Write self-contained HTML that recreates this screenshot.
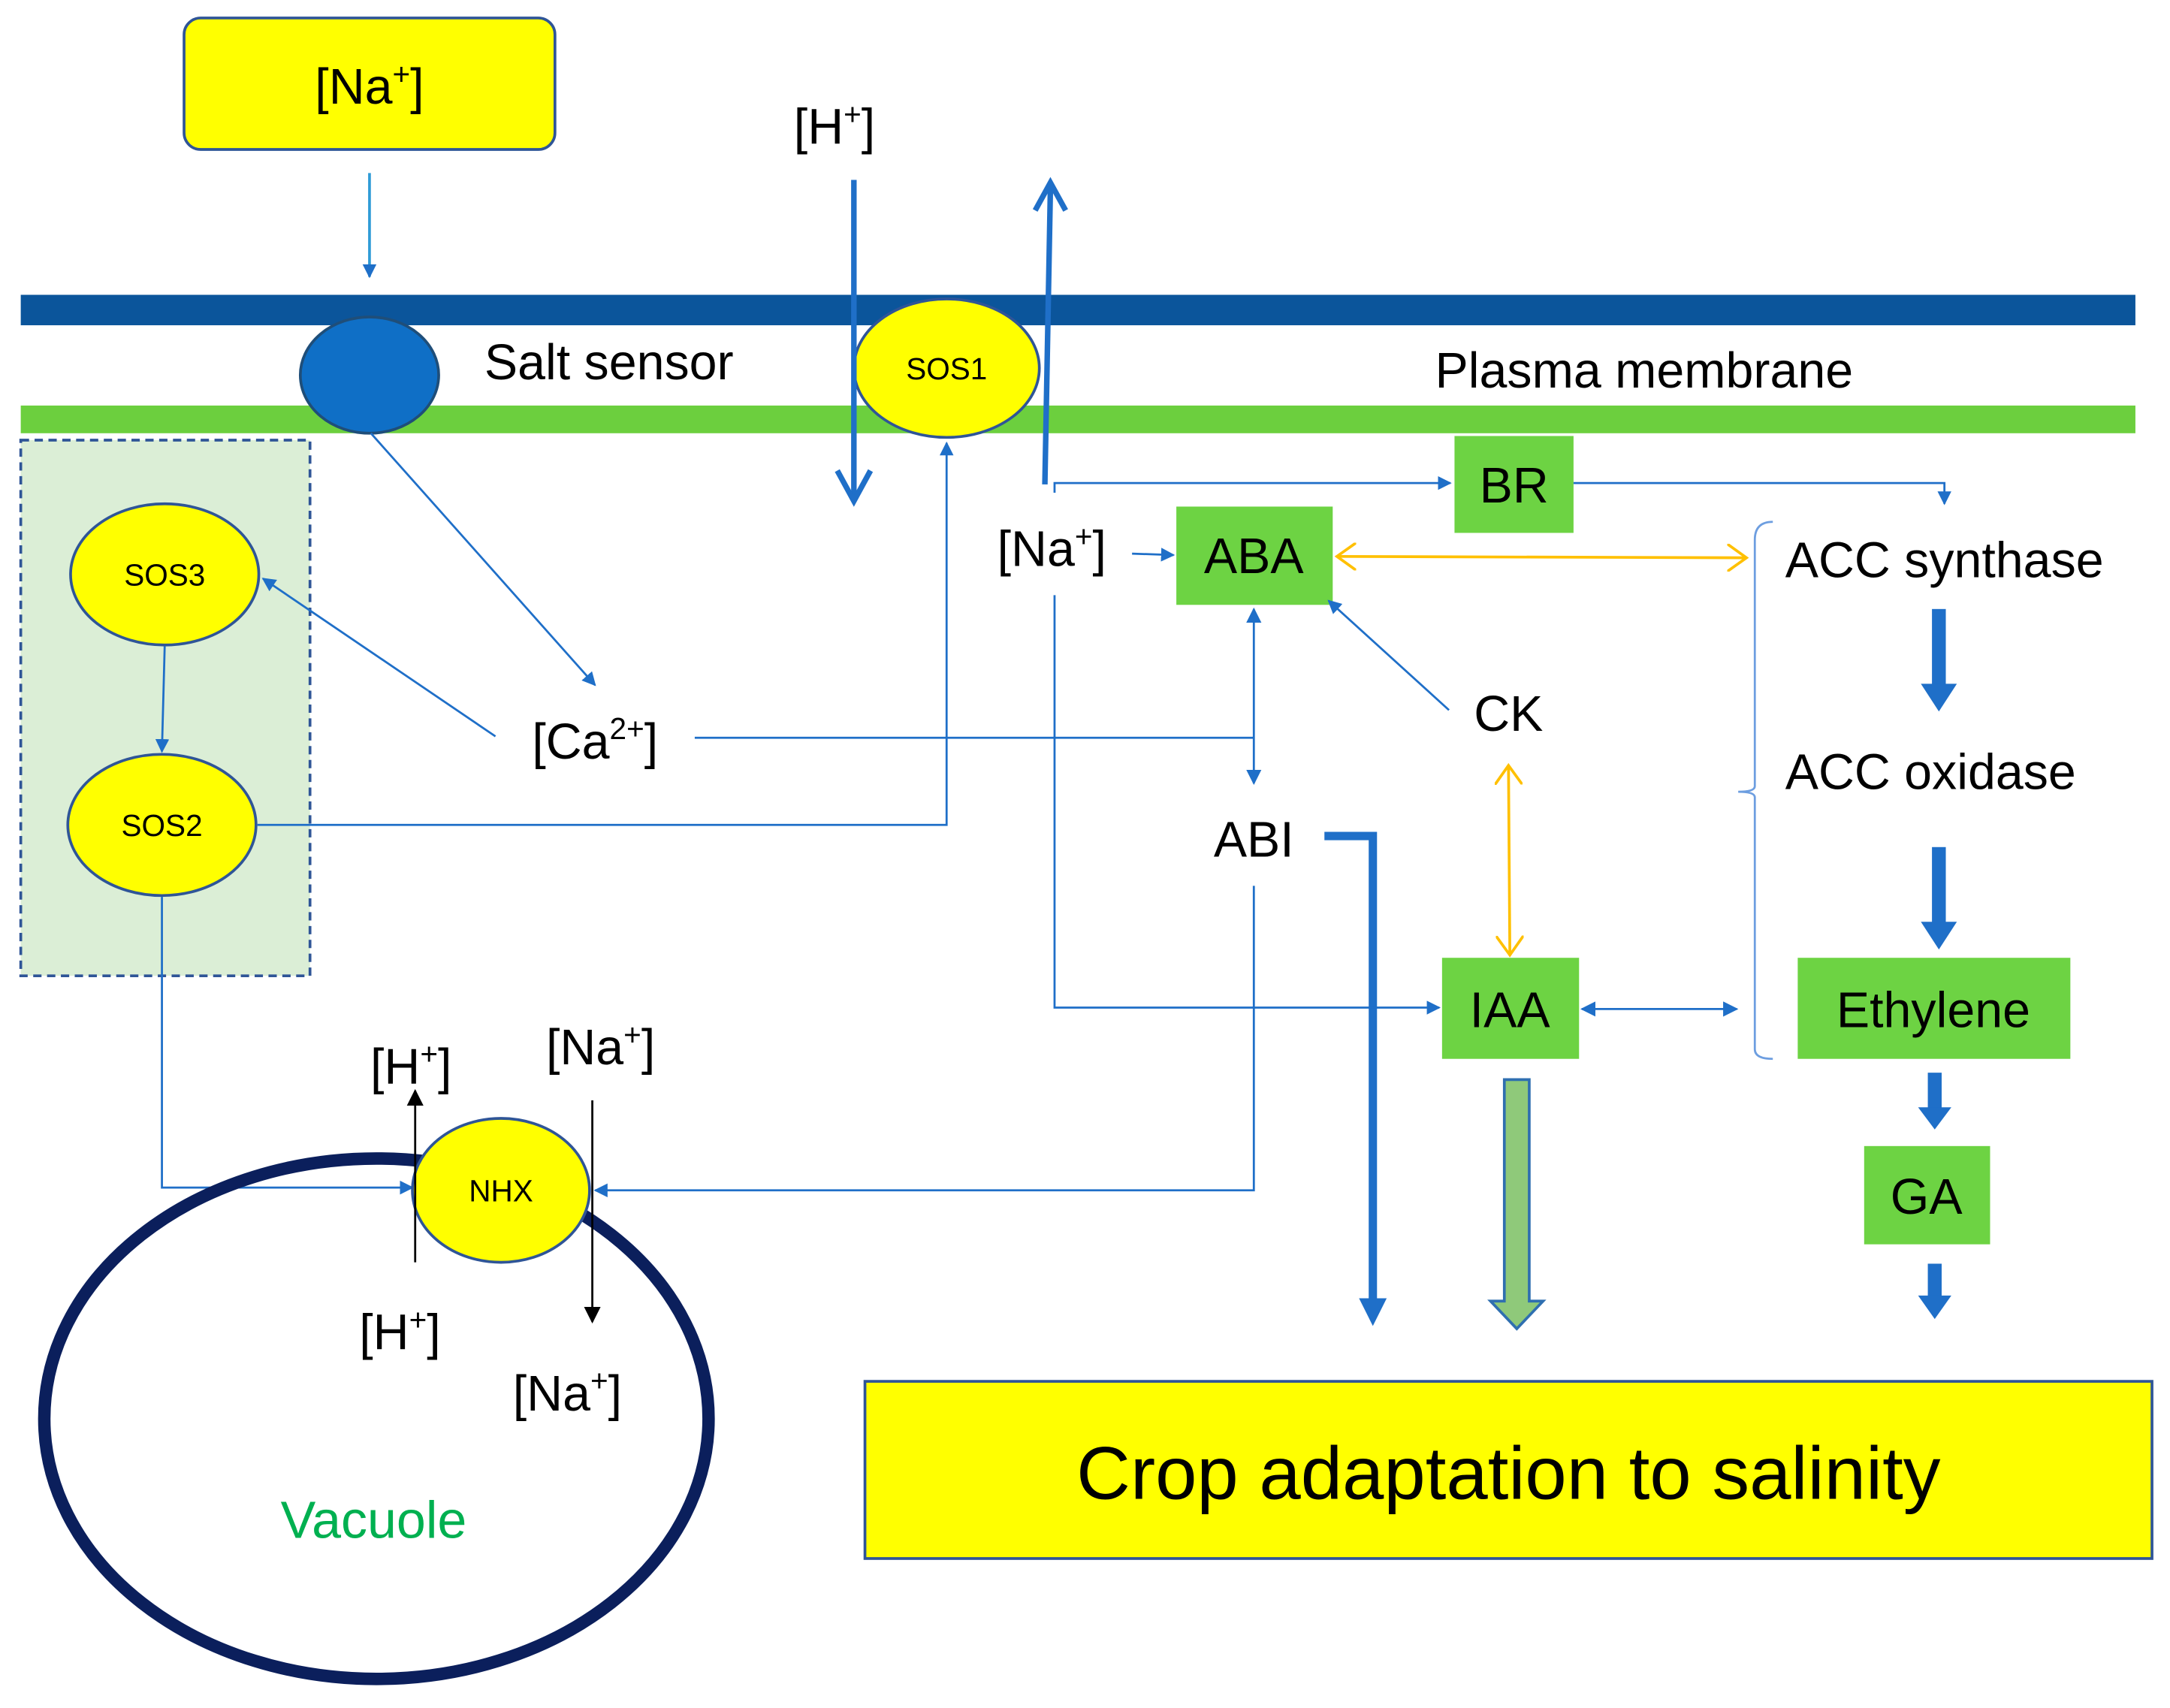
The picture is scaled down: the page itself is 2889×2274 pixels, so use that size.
<!DOCTYPE html>
<html><head><meta charset="utf-8"><style>
html,body{margin:0;padding:0;background:#fff;}
svg{display:block;}
text{font-family:"Liberation Sans",sans-serif;}
</style></head><body>
<svg width="2889" height="2274" viewBox="0 0 1568 1234" preserveAspectRatio="none" xmlns="http://www.w3.org/2000/svg">
<defs>
<marker id="a" markerWidth="10" markerHeight="10" refX="9" refY="5" orient="auto" markerUnits="userSpaceOnUse" viewBox="0 0 10 10"><path d="M0,0 L10,5 L0,10 z" fill="#1f6fc8"/></marker>
<marker id="a2" markerWidth="11" markerHeight="11" refX="9" refY="5" orient="auto-start-reverse" markerUnits="userSpaceOnUse" viewBox="0 0 10 10"><path d="M0,0 L10,5 L0,10 z" fill="#1f6fc8"/></marker>
<marker id="ab" markerWidth="12" markerHeight="12" refX="9" refY="5" orient="auto" markerUnits="userSpaceOnUse" viewBox="0 0 10 10"><path d="M0,0 L10,5 L0,10 z" fill="#000"/></marker>
<marker id="ay" markerWidth="16" markerHeight="20" refX="14" refY="10" orient="auto-start-reverse" markerUnits="userSpaceOnUse" viewBox="0 0 16 20"><path d="M0,0 L14,10 L0,20" fill="none" stroke="#ffc000" stroke-width="2"/></marker>
</defs>
<rect x="133" y="13" width="268" height="95" rx="12" fill="#ffff00" stroke="#2f5597" stroke-width="2"/>
<text x="267" y="75" font-size="36" text-anchor="middle">[Na<tspan dy="-14" font-size="22">+</tspan><tspan dy="14">]</tspan></text>
<line x1="267" y1="125" x2="267" y2="200" stroke="#2e9bd6" stroke-width="2" marker-end="url(#a)"/>
<rect x="15" y="213" width="1528" height="22" fill="#0b559b"/>
<rect x="15" y="293" width="1528" height="20" fill="#6ccf3e"/>
<ellipse cx="267" cy="271" rx="50" ry="42" fill="#0f6fc6" stroke="#1f4e79" stroke-width="2"/>
<text x="350" y="274" font-size="36">Salt sensor</text>
<ellipse cx="684" cy="266" rx="67" ry="50" fill="#ffff00" stroke="#2f5597" stroke-width="2"/>
<text x="684" y="274" font-size="22" text-anchor="middle">SOS1</text>
<text x="603" y="104" font-size="36" text-anchor="middle">[H<tspan dy="-14" font-size="22">+</tspan><tspan dy="14">]</tspan></text>
<line x1="617" y1="130" x2="617" y2="358" stroke="#1f6fc8" stroke-width="4"/>
<path d="M605,340 L617,362 L629,340" fill="none" stroke="#1f6fc8" stroke-width="4"/>
<line x1="755" y1="350" x2="759" y2="136" stroke="#1f6fc8" stroke-width="4"/>
<path d="M748,152 L759,132 L770,152" fill="none" stroke="#1f6fc8" stroke-width="4"/>
<text x="1188" y="280" font-size="36" text-anchor="middle">Plasma membrane</text>
<rect x="15" y="318" width="209" height="387" fill="#dbeed6" stroke="#2f5597" stroke-width="2" stroke-dasharray="6,4"/>
<ellipse cx="119" cy="415" rx="68" ry="51" fill="#ffff00" stroke="#2f5597" stroke-width="2"/>
<text x="119" y="423" font-size="22" text-anchor="middle">SOS3</text>
<ellipse cx="117" cy="596" rx="68" ry="51" fill="#ffff00" stroke="#2f5597" stroke-width="2"/>
<text x="117" y="604" font-size="22" text-anchor="middle">SOS2</text>
<line x1="119" y1="467" x2="117" y2="543" stroke="#1f6fc8" stroke-width="1.5" marker-end="url(#a)"/>
<line x1="268" y1="313" x2="430" y2="495" stroke="#1f6fc8" stroke-width="1.5" marker-end="url(#a)"/>
<text x="430" y="548" font-size="36" text-anchor="middle">[Ca<tspan dy="-14" font-size="22">2+</tspan><tspan dy="14">]</tspan></text>
<line x1="358" y1="532" x2="190" y2="418" stroke="#1f6fc8" stroke-width="1.5" marker-end="url(#a)"/>
<line x1="502" y1="533" x2="906" y2="533" stroke="#1f6fc8" stroke-width="1.5"/>
<polyline points="186,596 684,596 684,320" fill="none" stroke="#1f6fc8" stroke-width="1.5" marker-end="url(#a)"/>
<polyline points="117,648 117,858 298,858" fill="none" stroke="#1f6fc8" stroke-width="1.5" marker-end="url(#a)"/>
<text x="760" y="409" font-size="36" text-anchor="middle">[Na<tspan dy="-14" font-size="22">+</tspan><tspan dy="14">]</tspan></text>
<line x1="818" y1="400" x2="848" y2="401" stroke="#1f6fc8" stroke-width="1.5" marker-end="url(#a)"/>
<rect x="850" y="366" width="113" height="71" fill="#6dd343"/>
<text x="906" y="414" font-size="36" text-anchor="middle">ABA</text>
<rect x="1051" y="315" width="86" height="70" fill="#6dd343"/>
<text x="1094" y="363" font-size="36" text-anchor="middle">BR</text>
<polyline points="762,356 762,349 1048,349" fill="none" stroke="#1f6fc8" stroke-width="1.5" marker-end="url(#a)"/>
<polyline points="1137,349 1405,349 1405,364" fill="none" stroke="#1f6fc8" stroke-width="1.5" marker-end="url(#a)"/>
<line x1="966" y1="402" x2="1262" y2="403" stroke="#ffc000" stroke-width="2" marker-start="url(#ay)" marker-end="url(#ay)"/>
<path d="M1281,377 Q1268,377 1268,390 L1268,568 Q1268,572 1256,572 Q1268,572 1268,576 L1268,758 Q1268,765 1281,765" fill="none" stroke="#6d9ee0" stroke-width="1.5"/>
<text x="1405" y="417" font-size="36" text-anchor="middle">ACC synthase</text>
<rect x="1396" y="440" width="10" height="56" fill="#1f6fc8"/><path d="M1388,494 L1414,494 L1401,514 z" fill="#1f6fc8"/>
<text x="1395" y="570" font-size="36" text-anchor="middle">ACC oxidase</text>
<rect x="1396" y="612" width="10" height="56" fill="#1f6fc8"/><path d="M1388,666 L1414,666 L1401,686 z" fill="#1f6fc8"/>
<rect x="1299" y="692" width="197" height="73" fill="#6dd343"/>
<text x="1397" y="742" font-size="36" text-anchor="middle">Ethylene</text>
<rect x="1393" y="775" width="10" height="27" fill="#1f6fc8"/><path d="M1386,800 L1410,800 L1398,816 z" fill="#1f6fc8"/>
<rect x="1347" y="828" width="91" height="71" fill="#6dd343"/>
<text x="1392" y="877" font-size="36" text-anchor="middle">GA</text>
<rect x="1393" y="913" width="10" height="25" fill="#1f6fc8"/><path d="M1386,936 L1410,936 L1398,953 z" fill="#1f6fc8"/>
<text x="1090" y="528" font-size="36" text-anchor="middle">CK</text>
<line x1="1047" y1="513" x2="960" y2="434" stroke="#1f6fc8" stroke-width="1.5" marker-end="url(#a)"/>
<line x1="906" y1="440" x2="906" y2="566" stroke="#1f6fc8" stroke-width="1.5" marker-start="url(#a2)" marker-end="url(#a2)"/>
<text x="906" y="619" font-size="36" text-anchor="middle">ABI</text>
<polyline points="957,604 992,604 992,945" fill="none" stroke="#1f6fc8" stroke-width="6"/>
<path d="M982,938 L1002,938 L992,958 z" fill="#1f6fc8"/>
<line x1="1090" y1="553" x2="1091" y2="690" stroke="#ffc000" stroke-width="2" marker-start="url(#ay)" marker-end="url(#ay)"/>
<rect x="1042" y="692" width="99" height="73" fill="#6dd343"/>
<text x="1091" y="742" font-size="36" text-anchor="middle">IAA</text>
<line x1="1143" y1="729" x2="1255" y2="729" stroke="#1f6fc8" stroke-width="1.5" marker-start="url(#a2)" marker-end="url(#a2)"/>
<polyline points="762,430 762,728 1040,728" fill="none" stroke="#1f6fc8" stroke-width="1.5" marker-end="url(#a)"/>
<path d="M1087,780 L1105,780 L1105,940 L1115,940 L1096,960 L1077,940 L1087,940 z" fill="#8fc97a" stroke="#2f6fb0" stroke-width="2"/>
<polyline points="906,640 906,860 430,860" fill="none" stroke="#1f6fc8" stroke-width="1.5" marker-end="url(#a)"/>
<ellipse cx="272" cy="1025" rx="240" ry="188" fill="none" stroke="#0b1f5c" stroke-width="9"/>
<ellipse cx="362" cy="860" rx="64" ry="52" fill="#ffff00" stroke="#2f5597" stroke-width="2"/>
<text x="362" y="868" font-size="22" text-anchor="middle">NHX</text>
<line x1="300" y1="912" x2="300" y2="788" stroke="#000" stroke-width="1.5" marker-end="url(#ab)"/>
<line x1="428" y1="795" x2="428" y2="955" stroke="#000" stroke-width="1.5" marker-end="url(#ab)"/>
<text x="297" y="783" font-size="36" text-anchor="middle">[H<tspan dy="-14" font-size="22">+</tspan><tspan dy="14">]</tspan></text>
<text x="434" y="769" font-size="36" text-anchor="middle">[Na<tspan dy="-14" font-size="22">+</tspan><tspan dy="14">]</tspan></text>
<text x="289" y="975" font-size="36" text-anchor="middle">[H<tspan dy="-14" font-size="22">+</tspan><tspan dy="14">]</tspan></text>
<text x="410" y="1019" font-size="36" text-anchor="middle">[Na<tspan dy="-14" font-size="22">+</tspan><tspan dy="14">]</tspan></text>
<text x="270" y="1111" font-size="38" text-anchor="middle" fill="#00b050">Vacuole</text>
<rect x="625" y="998" width="930" height="128" fill="#ffff00" stroke="#2f5597" stroke-width="2"/>
<text x="1090" y="1083" font-size="54" text-anchor="middle">Crop adaptation to salinity</text>
</svg>
</body></html>
